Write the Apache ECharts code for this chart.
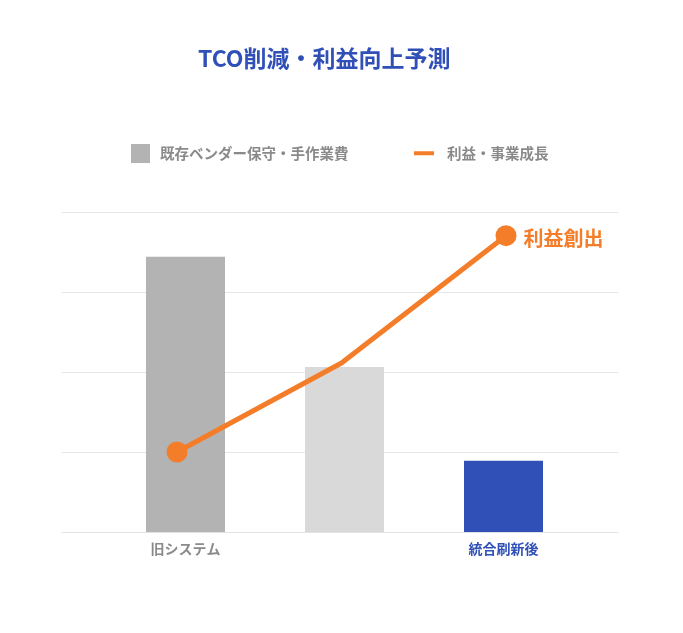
<!DOCTYPE html>
<html>
<head>
<meta charset="utf-8">
<script src="https://cdn.jsdelivr.net/npm/echarts@6/dist/echarts.min.js"></script>
<style>
html,body{margin:0;padding:0;background:#fff;}
#c{width:683px;height:633px;}
</style>
</head>
<body>
<div id="c"></div>
<script>
const categories = ['旧システム', '', '統合刷新後'];
const costValues = [86, 51.6, 22.3];
const profitValues = [25, 52.8, 92.6];
const yTicks = [0, 25, 50, 75, 100];
const titleText = 'TCO削減・利益向上予測';
const costName = '既存ベンダー保守・手作業費';
const profitName = '利益・事業成長';
const endLabel = '利益創出';

const FONT = '"Noto Sans CJK JP", "Noto Sans", sans-serif';
const BLUE = '#3050b8';
const ORANGE = '#f47d2a';
const barColors = ['#b3b3b3', '#d9d9d9', BLUE];
const labelColors = ['#8a8a8a', '#8a8a8a', BLUE];

const chart = echarts.init(document.getElementById('c'));
const yBase = {
  type: 'value', min: yTicks[0], max: yTicks[yTicks.length - 1], interval: yTicks[1] - yTicks[0],
  axisLabel: { show: false }, axisLine: { show: false }, axisTick: { show: false }
};
chart.setOption({
  backgroundColor: '#fff',
  animation: false,
  title: {
    text: titleText, left: 193, top: 42,
    textStyle: { color: BLUE, fontSize: 23, fontWeight: 'bold', fontFamily: FONT }
  },
  legend: [
    {
      data: [{ name: costName, icon: 'rect' }], left: 126, top: 139,
      itemWidth: 19, itemHeight: 19,
      textStyle: { color: '#8a8a8a', fontSize: 14.5, fontWeight: 'bold', fontFamily: FONT, padding: [0, 0, 0, 5] }
    },
    {
      data: [{ name: profitName, icon: 'rect' }], left: 409, top: 141,
      itemWidth: 20, itemHeight: 4,
      textStyle: { color: '#8a8a8a', fontSize: 14.5, fontWeight: 'bold', fontFamily: FONT, padding: [0, 0, 0, 8] }
    }
  ],
  grid: [
    { left: 62, right: 65, top: 212, bottom: 101 },
    { left: 106, right: 100, top: 212, bottom: 101 },
    { left: 94.75, right: 94.75, top: 212, bottom: 101 }
  ],
  xAxis: [
    { gridIndex: 0, type: 'category', data: categories, show: true,
      axisLine: { lineStyle: { color: '#e3e3e3' } }, axisTick: { show: false }, axisLabel: { show: false } },
    { gridIndex: 1, type: 'category', data: categories,
      axisLine: { show: false }, axisTick: { show: false },
      axisLabel: {
        margin: 10, fontSize: 14, fontWeight: 'bold', fontFamily: FONT,
        color: (v, i) => labelColors[i]
      } },
    { gridIndex: 2, type: 'category', data: categories, show: false }
  ],
  yAxis: [
    Object.assign({ gridIndex: 0, splitLine: { lineStyle: { color: '#e6e6e6', width: 1 } } }, yBase),
    Object.assign({ gridIndex: 1, splitLine: { show: false } }, yBase),
    Object.assign({ gridIndex: 2, splitLine: { show: false } }, yBase)
  ],
  series: [
    {
      name: costName, type: 'bar', xAxisIndex: 1, yAxisIndex: 1, barWidth: 79,
      itemStyle: { color: '#b3b3b3' },
      data: costValues.map((v, i) => ({ value: v, itemStyle: { color: barColors[i] } }))
    },
    {
      name: profitName, type: 'line', xAxisIndex: 2, yAxisIndex: 2,
      symbol: 'circle', symbolSize: 21,
      lineStyle: { color: ORANGE, width: 5 },
      itemStyle: { color: ORANGE },
      data: profitValues.map((v, i) => {
        const d = { value: v };
        if (i === 1) d.symbol = 'none';
        if (i === profitValues.length - 1) {
          d.label = {
            show: true, position: 'right', distance: 7, formatter: endLabel,
            color: ORANGE, fontSize: 20, fontWeight: 'bold', fontFamily: FONT, offset: [0, 3]
          };
        }
        return d;
      })
    }
  ]
});
</script>
</body>
</html>
